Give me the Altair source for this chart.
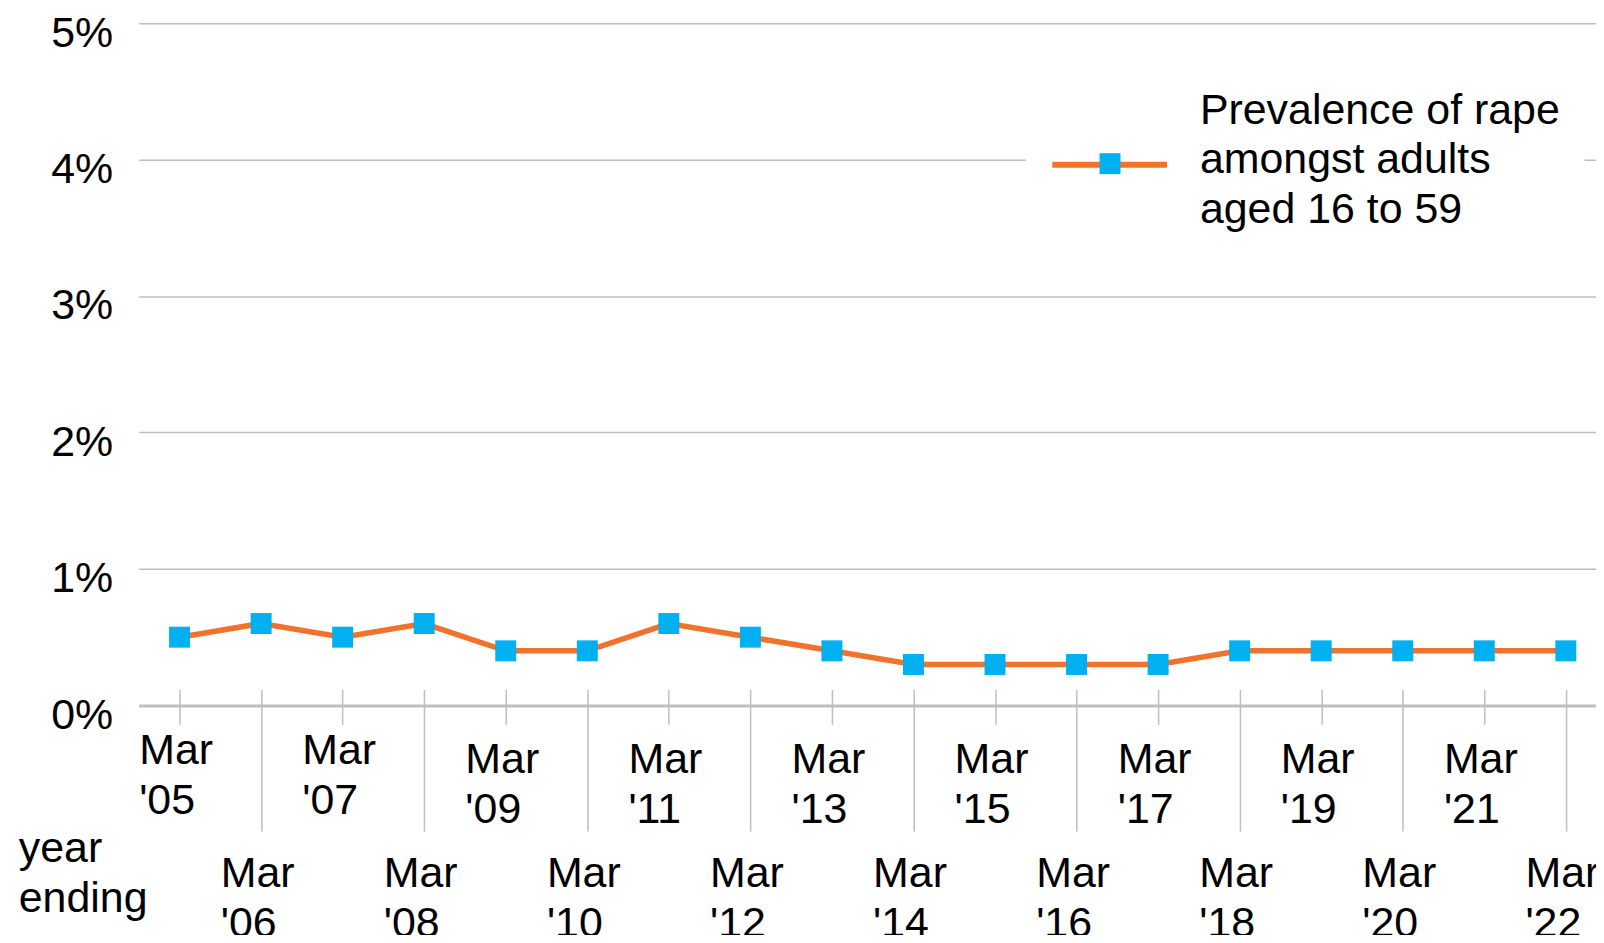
import altair as alt
import pandas as pd

# ---- data ----
years = [2005, 2006, 2007, 2008, 2009, 2010, 2011, 2012, 2013,
         2014, 2015, 2016, 2017, 2018, 2019, 2020, 2021, 2022]
prevalence = [0.5, 0.6, 0.5, 0.6, 0.4, 0.4, 0.6, 0.5, 0.4,
              0.3, 0.3, 0.3, 0.3, 0.4, 0.4, 0.4, 0.4, 0.4]
y_ticks = [0, 1, 2, 3, 4, 5]
series_name = "Prevalence of rape amongst adults aged 16 to 59"
legend_lines = ["Prevalence of rape", "amongst adults", "aged 16 to 59"]
x_title = ["year", "ending"]

df = pd.DataFrame({
    "year": years,
    "pct": prevalence,
    "s_line": [series_name] * len(years),
    "s_point": [series_name] * len(years),
    "s_text": [series_name] * len(years),
})

FONT = "Liberation Sans"
FS = 43
ORANGE = "#F0722B"
CYAN = "#00B0F0"
GRID = "#BFBFBF"

legend_expr = "[" + ", ".join("'" + s + "'" for s in legend_lines) + "]"

x_enc = alt.X(
    "year:Q",
    scale=alt.Scale(domain=[2004.4985, 2022.370], nice=False, zero=False),
    axis=alt.Axis(
        values=years,
        format="d",
        labelExpr="['Mar', \"'\" + substring(toString(datum.value), 2, 4)]",
        labelFont=FONT,
        labelFontSize=FS,
        labelColor="black",
        labelLineHeight=50,
        labelAlign="left",
        labelBaseline="top",
        labelOffset=-41,
        labelPadding={"expr": "datum.value % 2 == 0 ? 22 : (datum.value <= 2007 ? 5 : 14)"},
        labelOverlap=False,
        labelFlush=False,
        labelBound=False,
        domain=False,
        grid=False,
        ticks=True,
        tickColor=GRID,
        tickWidth=1.5,
        tickSize={"condition": {"test": "datum.value % 2 == 0", "value": 142}, "value": 35},
        offset=-16,
        title=x_title,
        titleFont=FONT,
        titleFontSize=FS,
        titleFontWeight="normal",
        titleColor="black",
        titleAlign="left",
        titleBaseline="top",
        titleAngle=0,
        titleLineHeight=50,
        titleX=-120.7,
        titleY=138.5,
    ),
)

y_enc = alt.Y(
    "pct:Q",
    scale=alt.Scale(domain=[0, 5], nice=False, zero=True),
    axis=alt.Axis(
        values=y_ticks,
        labelExpr="datum.value + '%'",
        labelFont=FONT,
        labelFontSize=FS,
        labelColor="black",
        labelPadding=26,
        labelOffset=10,
        labelBaseline="middle",
        domain=False,
        ticks=False,
        grid=True,
        gridColor=GRID,
        gridWidth={"condition": {"test": "datum.value == 0", "value": 3}, "value": 1.5},
        title=None,
    ),
)

# legend: white box with the text (shape channel, symbol hidden)
text_legend = alt.Legend(
    orient="none",
    legendX=889.5,
    legendY=42.2,
    title=None,
    symbolType="square",
    symbolSize=1,
    symbolStrokeWidth=0,
    symbolOpacity=0,
    labelExpr=legend_expr,
    labelFont=FONT,
    labelFontSize=FS,
    labelColor="black",
    labelOffset=107.4,
    labelLimit=2000,
    padding=24,
    fillColor="white",
    zindex=1,
)

# legend: orange line symbol (stroke channel, no label text)
line_legend = alt.Legend(
    orient="none",
    legendX=912.9,
    legendY=81.5,
    title=None,
    symbolType="stroke",
    symbolSize=13225,
    symbolStrokeWidth=6,
    labelExpr="''",
    labelFont=FONT,
    labelFontSize=FS,
    padding=0,
    zindex=2,
)

# legend: cyan square symbol (fill channel, no label text)
square_legend = alt.Legend(
    orient="none",
    legendX=952.3,
    legendY=119.4,
    title=None,
    symbolType="square",
    symbolSize=441,
    symbolStrokeWidth=0,
    symbolOpacity=1,
    labelExpr="''",
    labelFont=FONT,
    labelFontSize=FS,
    padding=0,
    zindex=3,
)

line = alt.Chart(df).mark_line(strokeWidth=5.5).encode(
    x=x_enc,
    y=y_enc,
    stroke=alt.Stroke("s_line:N", scale=alt.Scale(range=[ORANGE]), legend=line_legend),
)

points = alt.Chart(df).mark_point(filled=True, size=441, opacity=1).encode(
    x=alt.X("year:Q"),
    y=alt.Y("pct:Q"),
    fill=alt.Fill("s_point:N", scale=alt.Scale(range=[CYAN]), legend=square_legend),
    shape=alt.Shape("s_text:N", scale=alt.Scale(range=["square"]), legend=text_legend),
)

chart = (
    alt.layer(line, points)
    .properties(
        width=1461,
        height=684,
        autosize=alt.AutoSizeParams(type="none"),
        padding={"left": 131, "top": 14, "right": 0, "bottom": 229},
        background="white",
    )
    .configure(style={"guide-label": {"lineHeight": 50}})
    .configure_view(stroke=None)
)

chart.save("out.html", embed_options={"renderer": "svg", "actions": False})
